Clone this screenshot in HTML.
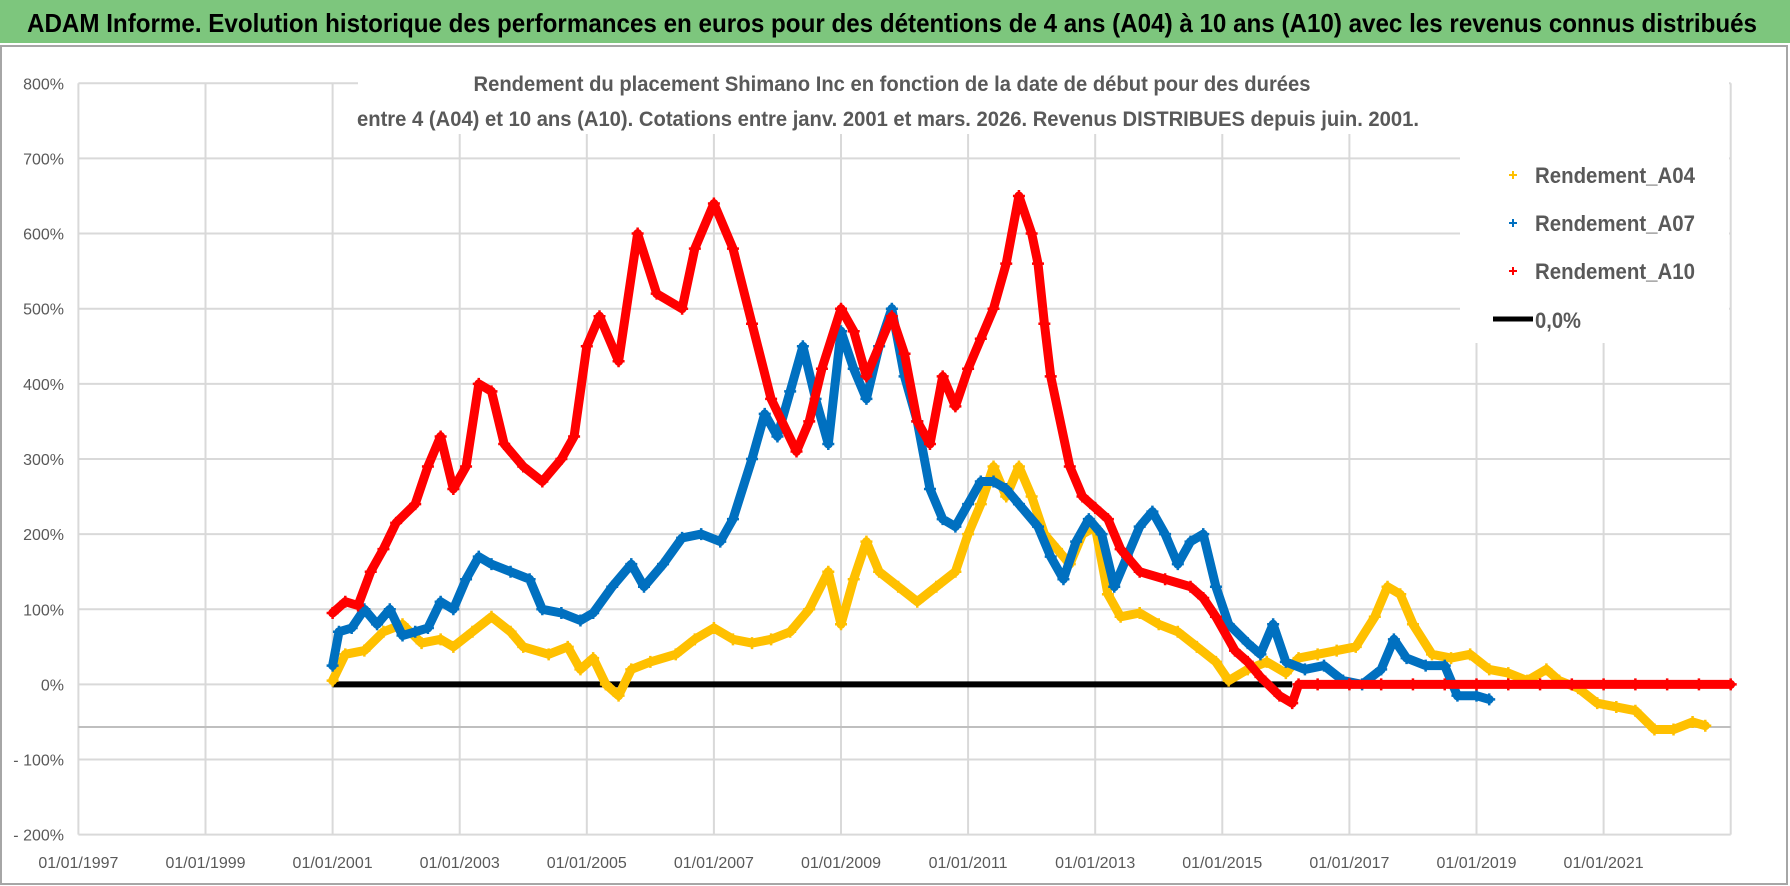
<!DOCTYPE html>
<html><head><meta charset="utf-8"><style>
html,body{margin:0;padding:0;background:#fff;}
svg{display:block;font-family:"Liberation Sans Narrow","Liberation Sans",sans-serif;}
</style></head><body>
<svg id="chart" width="1790" height="886" viewBox="0 0 1790 886" xmlns="http://www.w3.org/2000/svg">
<rect x="0" y="0" width="1790" height="886" fill="#fff"/>
<rect x="0" y="0" width="1790" height="43" fill="#7dc67d"/>
<text x="27" y="32" font-size="26" font-weight="bold" fill="#000" textLength="1730" lengthAdjust="spacingAndGlyphs">ADAM Informe. Evolution historique des performances en euros pour des détentions de 4 ans (A04) à 10 ans (A10) avec les revenus connus distribués</text>
<rect x="1" y="46" width="1786" height="838" fill="none" stroke="#a6a6a6" stroke-width="2"/>
<g id="grid"></g>
<g id="ylabels"></g>
<g id="xlabels"></g>
<g id="series"></g>
<rect x="358" y="64" width="1371" height="70" fill="#fff"/>
<text x="892" y="91" font-size="21" font-weight="bold" fill="#595959" text-anchor="middle" textLength="837" lengthAdjust="spacingAndGlyphs">Rendement du placement Shimano Inc en fonction de la date de début pour des durées</text>
<text x="888" y="126" font-size="21" font-weight="bold" fill="#595959" text-anchor="middle" textLength="1062" lengthAdjust="spacingAndGlyphs">entre 4 (A04) et 10 ans (A10).  Cotations entre janv. 2001 et mars. 2026.  Revenus DISTRIBUES depuis juin. 2001.</text>
<g>
<rect x="1460" y="134" width="269" height="209" fill="#fff"/>
<g><path d="M1509 175h8M1513 171v8" stroke="#FFC000" stroke-width="2"/><text x="1535" y="183" font-size="22" font-weight="bold" fill="#595959" textLength="160" lengthAdjust="spacingAndGlyphs">Rendement_A04</text></g>
<g><path d="M1509 223h8M1513 219v8" stroke="#0070C0" stroke-width="2"/><text x="1535" y="231" font-size="22" font-weight="bold" fill="#595959" textLength="160" lengthAdjust="spacingAndGlyphs">Rendement_A07</text></g>
<g><path d="M1509 271h8M1513 267v8" stroke="#FF0000" stroke-width="2"/><text x="1535" y="279" font-size="22" font-weight="bold" fill="#595959" textLength="160" lengthAdjust="spacingAndGlyphs">Rendement_A10</text></g>
<g><line x1="1493" y1="319" x2="1533" y2="319" stroke="#000" stroke-width="5"/><text x="1535" y="328" font-size="22" font-weight="bold" fill="#595959" textLength="46" lengthAdjust="spacingAndGlyphs">0,0%</text></g>
</g>
</svg>
<script>
const yTicks = [800,700,600,500,400,300,200,100,0,-100,-200];
const yTickLabels = ["800%","700%","600%","500%","400%","300%","200%","100%","0%","- 100%","- 200%"];
const xTicks = [1997,1999,2001,2003,2005,2007,2009,2011,2013,2015,2017,2019,2021,2023];
const xTickLabels = ["01/01/1997","01/01/1999","01/01/2001","01/01/2003","01/01/2005","01/01/2007","01/01/2009","01/01/2011","01/01/2013","01/01/2015","01/01/2017","01/01/2019","01/01/2021",""];
const a04Dates = [2001.0,2001.2,2001.5,2001.8,2002.1,2002.4,2002.7,2002.9,2003.2,2003.5,2003.8,2004.0,2004.4,2004.7,2004.9,2005.1,2005.3,2005.5,2005.7,2006.0,2006.4,2006.7,2007.0,2007.3,2007.6,2007.9,2008.2,2008.5,2008.8,2009.0,2009.2,2009.4,2009.6,2009.9,2010.2,2010.5,2010.8,2011.0,2011.2,2011.4,2011.6,2011.8,2012.0,2012.2,2012.4,2012.6,2012.8,2013.0,2013.2,2013.4,2013.7,2014.0,2014.3,2014.6,2014.9,2015.1,2015.4,2015.7,2016.0,2016.2,2016.5,2016.8,2017.1,2017.4,2017.6,2017.8,2018.0,2018.3,2018.6,2018.9,2019.2,2019.5,2019.8,2020.1,2020.3,2020.6,2020.9,2021.2,2021.5,2021.8,2022.1,2022.4,2022.6];
const a04Values = [5,40,45,70,80,55,60,50,70,90,70,50,40,50,20,35,0,-15,20,30,40,60,75,60,55,60,70,100,150,80,140,190,150,130,110,130,150,200,240,290,250,290,250,200,180,160,200,210,120,90,95,80,70,50,30,5,20,30,15,35,40,45,50,90,130,120,80,40,35,40,20,15,5,20,5,-5,-25,-30,-35,-60,-60,-50,-55];
const a07Dates = [2001.0,2001.1,2001.3,2001.5,2001.7,2001.9,2002.1,2002.3,2002.5,2002.7,2002.9,2003.1,2003.3,2003.5,2003.8,2004.1,2004.3,2004.6,2004.9,2005.1,2005.4,2005.7,2005.9,2006.2,2006.5,2006.8,2007.1,2007.3,2007.6,2007.8,2008.0,2008.2,2008.4,2008.6,2008.8,2009.0,2009.2,2009.4,2009.6,2009.8,2010.0,2010.2,2010.4,2010.6,2010.8,2011.0,2011.2,2011.4,2011.6,2011.8,2012.1,2012.3,2012.5,2012.7,2012.9,2013.1,2013.3,2013.5,2013.7,2013.9,2014.1,2014.3,2014.5,2014.7,2014.9,2015.1,2015.4,2015.6,2015.8,2016.0,2016.3,2016.6,2016.9,2017.2,2017.5,2017.7,2017.9,2018.2,2018.5,2018.7,2019.0,2019.2];
const a07Values = [25,70,75,100,80,100,65,70,75,110,100,140,170,160,150,140,100,95,85,95,130,160,130,160,195,200,190,220,300,360,330,390,450,380,320,470,420,380,450,500,410,350,260,220,210,240,270,270,260,240,210,170,140,190,220,200,130,170,210,230,200,160,190,200,130,80,55,40,80,30,20,25,5,0,20,60,35,25,25,-15,-15,-20];
const a10Dates = [2001.0,2001.2,2001.4,2001.6,2001.8,2002.0,2002.3,2002.5,2002.7,2002.9,2003.1,2003.3,2003.5,2003.7,2004.0,2004.3,2004.6,2004.8,2005.0,2005.2,2005.5,2005.8,2006.1,2006.5,2006.7,2007.0,2007.3,2007.6,2007.9,2008.3,2008.5,2008.7,2009.0,2009.2,2009.4,2009.8,2010.0,2010.2,2010.4,2010.6,2010.8,2011.0,2011.2,2011.4,2011.6,2011.8,2012.0,2012.1,2012.2,2012.3,2012.6,2012.8,2013.0,2013.2,2013.4,2013.7,2014.1,2014.5,2014.7,2014.9,2015.2,2015.4,2015.6,2015.9,2016.1,2016.2,2016.5,2017.0,2017.5,2018.0,2018.5,2019.0,2019.5,2020.0,2020.5,2021.0,2021.5,2022.0,2022.5,2023.0];
const a10Values = [95,110,105,150,180,215,240,290,330,260,290,400,390,320,290,270,300,330,450,490,430,600,520,500,580,640,580,480,380,310,350,420,500,470,410,490,440,350,320,410,370,420,460,500,560,650,600,560,480,410,290,250,235,220,180,150,140,130,115,90,45,30,10,-15,-25,0,0,0,0,0,0,0,0,0,0,0,0,0,0,0];
const zeroDates = [2001.0,2016.1];
const zeroValues = [0,0];

const NS="http://www.w3.org/2000/svg";
const X0=78.4, XPY=63.55, Y0=684.4, YPP=0.7514;
function xs(year){return X0+(year-1997)*XPY;}
function ys(v){return Y0-v*YPP;}
function mk(tag,attrs,parent){const e=document.createElementNS(NS,tag);for(const k in attrs)e.setAttribute(k,attrs[k]);parent.appendChild(e);return e;}

const grid=document.getElementById('grid');
yTicks.forEach((t,i)=>{
  const l=mk('line',{x1:xs(1997),x2:xs(2023),y1:ys(t),y2:ys(t),stroke:'#d9d9d9','stroke-width':2},grid);
  
  
  const tx=mk('text',{x:64,y:ys(t)+6,'font-size':16,fill:'#595959','text-anchor':'end'},document.getElementById('ylabels'));
  tx.textContent=yTickLabels[i];
  
  
});
xTicks.forEach((t,i)=>{
  const l=mk('line',{x1:xs(t),x2:xs(t),y1:ys(800),y2:ys(-200),stroke:'#d9d9d9','stroke-width':2},grid);
  
  
  const tx=mk('text',{x:xs(t),y:868,'font-size':16,fill:'#595959','text-anchor':'middle'},document.getElementById('xlabels'));
  tx.textContent=xTickLabels[i];
  
  
});
const ref=mk('line',{x1:xs(1997),x2:xs(2023),y1:727,y2:727,stroke:'#bfbfbf','stroke-width':2},grid);



const sg=document.getElementById('series');
function drawSeries(dates,vals,color,name){
  const g=mk('g',{},sg);
  
  
  const pts=dates.map((d,i)=>xs(d).toFixed(1)+','+ys(vals[i]).toFixed(1)).join(' ');
  const pl=mk('polyline',{points:pts,fill:'none',stroke:color,'stroke-width':9,'stroke-linejoin':'round','stroke-linecap':'round'},g);
  
  
  dates.forEach((d,i)=>{
    const x=xs(d),y=ys(vals[i]);
    const p=mk('path',{d:`M${x-6} ${y}h12M${x} ${y-6}v12`,stroke:color,'stroke-width':2.5},g);
    
    
  });
}
const zl=mk('line',{x1:xs(zeroDates[0]),x2:xs(zeroDates[1]),y1:ys(zeroValues[0]),y2:ys(zeroValues[1]),stroke:'#000','stroke-width':6},sg);


drawSeries(a04Dates,a04Values,'#FFC000','series-a04');
drawSeries(a07Dates,a07Values,'#0070C0','series-a07');
drawSeries(a10Dates,a10Values,'#FF0000','series-a10');
</script>
</body></html>
